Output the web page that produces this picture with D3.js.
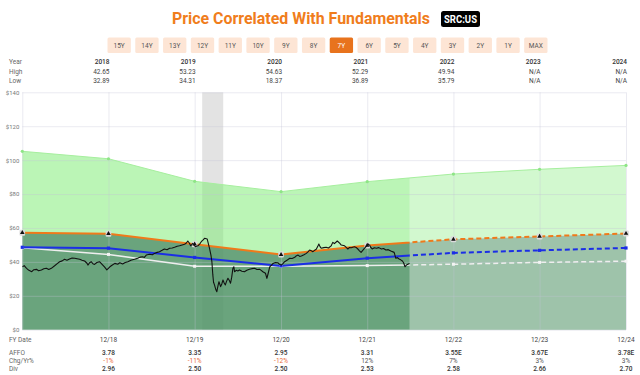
<!DOCTYPE html>
<html><head><meta charset="utf-8">
<script src="https://cdn.jsdelivr.net/npm/d3@7"></script>
<style>
html,body{margin:0;padding:0;background:#fff;}
svg{display:block;font-family:Roboto,"Open Sans",sans-serif;}
</style></head>
<body>
<svg id="chart" width="640" height="375"></svg>
<script>
// ---------- DATA ----------
const buttons = ["15Y","14Y","13Y","12Y","11Y","10Y","9Y","8Y","7Y","6Y","5Y","4Y","3Y","2Y","1Y","MAX"];
const activeButton = "7Y";
const tableYears = ["2018","2019","2020","2021","2022","2023","2024"];
const highs = ["42.65","53.23","54.63","52.29","49.94","N/A","N/A"];
const lows  = ["32.89","34.31","18.37","36.89","35.79","N/A","N/A"];

const fyDates  = ["2017-12-31","2018-12-31","2019-12-31","2020-12-31","2021-12-31","2022-12-31","2023-12-31","2024-12-31"];
const fyLabels = ["","12/18","12/19","12/20","12/21","12/22","12/23","12/24"];
const affo   = ["","3.78","3.35","2.95","3.31","3.55E","3.67E","3.78E"];
const chgYr  = ["","-1%","-11%","-12%","12%","7%","3%","3%"];
const divs   = ["","2.96","2.50","2.50","2.53","2.58","2.66","2.70"];

const upperVals  = [105.2,100.8,87.5,81.4,87.3,91.8,94.6,96.9];
const normalVals = [57.2,56.6,50.4,44.3,49.7,53.3,55.0,56.7];
const affoVals   = [48.6,48.1,42.6,37.6,42.2,45.3,46.8,48.2];
const divVals    = [48.3,44.4,37.4,37.4,37.8,38.6,39.7,40.4];

const recession = ["2020-02-01","2020-04-30"];
const nowDate = "2022-06-28";
const yTicks = [0,20,40,60,80,100,120,140];

const priceDates = ["2018-01-01","2018-01-08","2018-01-18","2018-01-28","2018-02-09","2018-02-18","2018-03-01","2018-03-10","2018-03-22","2018-04-01","2018-04-12","2018-04-22","2018-05-03","2018-05-17","2018-05-28","2018-06-07","2018-06-18","2018-06-28","2018-07-08","2018-07-19","2018-07-30","2018-08-10","2018-08-20","2018-08-31","2018-09-10","2018-09-21","2018-10-01","2018-10-05","2018-10-12","2018-10-19","2018-10-26","2018-11-02","2018-11-12","2018-11-23","2018-12-01","2018-12-07","2018-12-14","2018-12-24","2019-01-06","2019-01-15","2019-01-27","2019-02-08","2019-02-17","2019-03-01","2019-03-12","2019-03-23","2019-04-05","2019-04-20","2019-05-04","2019-05-15","2019-05-25","2019-06-01","2019-06-09","2019-06-23","2019-07-05","2019-07-14","2019-07-25","2019-08-04","2019-08-15","2019-08-25","2019-09-05","2019-09-16","2019-09-27","2019-10-07","2019-10-18","2019-10-28","2019-11-08","2019-11-18","2019-11-25","2019-12-02","2019-12-09","2019-12-14","2019-12-23","2020-01-03","2020-01-14","2020-01-21","2020-01-28","2020-02-05","2020-02-11","2020-02-22","2020-03-03","2020-03-09","2020-03-13","2020-03-17","2020-03-20","2020-03-24","2020-03-30","2020-04-03","2020-04-08","2020-04-12","2020-04-19","2020-04-24","2020-04-29","2020-05-04","2020-05-09","2020-05-14","2020-05-20","2020-05-26","2020-05-31","2020-06-05","2020-06-10","2020-06-14","2020-06-17","2020-06-24","2020-07-01","2020-07-08","2020-07-18","2020-07-29","2020-08-08","2020-08-19","2020-08-29","2020-09-10","2020-09-20","2020-10-01","2020-10-08","2020-10-15","2020-10-26","2020-11-01","2020-11-06","2020-11-13","2020-11-20","2020-11-27","2020-12-07","2020-12-17","2020-12-24","2021-01-01","2021-01-08","2021-01-15","2021-01-25","2021-02-06","2021-02-16","2021-02-27","2021-03-05","2021-03-13","2021-03-20","2021-03-27","2021-04-07","2021-04-17","2021-04-25","2021-05-01","2021-05-08","2021-05-15","2021-05-22","2021-05-29","2021-06-04","2021-06-09","2021-06-14","2021-06-19","2021-06-30","2021-07-10","2021-07-20","2021-07-31","2021-08-07","2021-08-14","2021-08-26","2021-09-05","2021-09-12","2021-09-26","2021-10-03","2021-10-10","2021-10-17","2021-10-24","2021-11-07","2021-11-14","2021-11-21","2021-11-28","2021-12-05","2021-12-12","2021-12-19","2021-12-29","2022-01-04","2022-01-10","2022-01-15","2022-01-21","2022-01-30","2022-02-08","2022-02-18","2022-03-01","2022-03-10","2022-03-20","2022-03-30","2022-04-10","2022-04-24","2022-05-01","2022-05-08","2022-05-15","2022-05-22","2022-05-29","2022-06-03","2022-06-09","2022-06-14","2022-06-19","2022-06-28"];
const priceVals = [37.1,37.8,36.2,35.0,34.2,35.4,35.6,34.8,35.2,35.9,36.2,35.5,36.2,37.7,39.0,40.1,40.6,41.5,41.0,41.7,42.3,42.1,41.8,41.5,41.0,40.5,39.2,38.1,39.5,40.1,38.9,38.5,39.6,40.1,39.0,38.1,37.0,35.3,37.1,38.0,39.1,38.6,39.5,38.8,39.6,40.1,41.0,41.5,42.1,42.8,43.0,42.6,44.0,44.5,44.2,45.0,45.6,46.0,46.8,47.6,47.2,48.0,48.2,48.6,49.2,49.5,50.0,50.4,51.0,52.3,51.0,49.5,50.9,48.9,49.5,50.5,51.9,53.0,53.9,53.5,48.0,44.0,40.1,32.3,28.0,26.4,23.5,22.4,26.0,28.3,25.4,27.0,29.3,27.5,26.4,28.5,30.3,29.0,27.4,31.0,36.2,37.1,34.2,35.0,34.6,35.2,34.5,34.2,35.0,35.6,36.0,36.2,35.5,35.6,35.0,34.2,33.3,30.3,33.0,37.1,38.0,39.1,39.6,39.5,38.6,38.1,39.0,40.1,41.0,42.1,42.0,42.7,43.5,44.0,43.2,43.5,44.2,45.0,46.0,47.0,46.5,46.0,46.8,47.4,49.0,50.5,49.0,48.0,48.4,48.6,48.2,49.4,51.5,50.8,52.3,51.0,49.9,49.5,48.5,47.6,48.5,48.3,48.9,48.5,47.6,46.5,45.6,46.8,48.0,49.5,50.5,49.9,48.5,47.6,48.3,48.0,48.4,47.6,47.9,47.0,47.2,46.4,45.6,42.1,42.5,41.7,41.2,40.5,39.5,37.1,38.0,38.5,39.1];

// ---------- CHART ----------
const parse = d3.timeParse("%Y-%m-%d");
const svg = d3.select("#chart");
const L = 22.3, R = 626, T = 92.3, B = 329.7;
const x = d3.scaleTime().domain([parse(fyDates[0]), parse(fyDates[fyDates.length-1])]).range([L, R]);
const y = d3.scaleLinear().domain([0, 140]).range([B, T]);
const fy = fyDates.map(parse);
const xNow = x(parse(nowDate));

// title
svg.append("text").attr("x", 172).attr("y", 23.5).attr("textLength", 258).attr("lengthAdjust", "spacingAndGlyphs")
  .attr("font-size", 17).attr("font-weight", 700).attr("fill", "#f07d1c").text("Price Correlated With Fundamentals");
svg.append("rect").attr("x", 441).attr("y", 11).attr("width", 39).attr("height", 16).attr("rx", 2.5).attr("fill", "#000");
svg.append("text").attr("x", 460.5).attr("y", 23).attr("text-anchor", "middle").attr("font-size", 11).attr("font-weight", 700)
  .attr("textLength", 33).attr("lengthAdjust", "spacingAndGlyphs").attr("fill", "#fff").text("SRC:US");

// buttons
const bx = d3.scaleBand().domain(buttons).range([107.5, 107.5 + 27.5 * buttons.length]).paddingInner(0.16).paddingOuter(0);
const bg = svg.append("g").selectAll("g").data(buttons).join("g");
bg.append("rect").attr("x", d => bx(d)).attr("y", 37.5).attr("width", bx.bandwidth()).attr("height", 15.5).attr("rx", 1.5)
  .attr("fill", d => d === activeButton ? "#e8731d" : "#fde5d5");
bg.append("text").attr("x", d => bx(d) + bx.bandwidth() / 2).attr("y", 47.8).attr("text-anchor", "middle")
  .attr("font-size", 6.5).attr("fill", d => d === activeButton ? "#fff" : "#555").text(d => d);

// top table
const tg = svg.append("g").attr("font-size", 6.5);
[["Year", 63.8], ["High", 74.2], ["Low", 83.4]].forEach(([t, yy]) =>
  tg.append("text").attr("x", 9).attr("y", yy).attr("fill", "#666").text(t));
const topX = (i) => x(fy[i + 1]) + 1;
tg.selectAll(".yr").data(tableYears).join("text").attr("x", (d, i) => topX(i)).attr("y", 63.8).attr("text-anchor", "end").attr("fill", "#333").attr("font-weight", 500).text(d => d);
tg.selectAll(".hi").data(highs).join("text").attr("x", (d, i) => topX(i)).attr("y", 74.2).attr("text-anchor", "end").attr("fill", "#444").text(d => d);
tg.selectAll(".lo").data(lows).join("text").attr("x", (d, i) => topX(i)).attr("y", 83.4).attr("text-anchor", "end").attr("fill", "#444").text(d => d);

// plot background items
const plot = svg.append("g");
plot.append("rect").attr("x", x(parse(recession[0]))).attr("y", T).attr("width", x(parse(recession[1])) - x(parse(recession[0])))
  .attr("height", B - T).attr("fill", "#e3e3e3");

const rows = fy.map((d, i) => ({d, up: upperVals[i], n: normalVals[i], a: affoVals[i], dv: divVals[i]}));
plot.append("path").datum(rows).attr("fill", "rgba(120,235,110,0.5)")
  .attr("d", d3.area().x(r => x(r.d)).y0(r => y(r.n)).y1(r => y(r.up)));
plot.append("path").datum(rows).attr("fill", "rgba(81,149,104,0.86)")
  .attr("d", d3.area().x(r => x(r.d)).y0(y(0)).y1(r => y(r.n)));
plot.append("rect").attr("x", xNow).attr("y", T).attr("width", R - xNow).attr("height", B - T).attr("fill", "rgba(255,255,255,0.35)");

// grid
const grid = svg.append("g");
grid.append("g").attr("transform", `translate(${L},0)`)
  .call(d3.axisLeft(y).tickValues(yTicks).tickSize(-(R - L)).tickFormat(d => "$" + d))
  .call(g => g.select(".domain").remove())
  .call(g => g.selectAll("line").attr("stroke", "rgba(195,195,215,0.35)"))
  .call(g => g.selectAll("text").attr("x", -3).attr("font-size", 6).attr("fill", "#777").attr("font-family", "Roboto"));
grid.append("g").attr("transform", `translate(0,${B})`)
  .call(d3.axisBottom(x).tickValues(fy).tickSize(-(B - T)).tickFormat(""))
  .call(g => g.select(".domain").remove())
  .call(g => g.selectAll("line").attr("stroke", "rgba(195,195,215,0.35)"));

// clip paths for solid/dashed parts
const defs = svg.append("defs");
defs.append("clipPath").attr("id", "past").append("rect").attr("x", 0).attr("y", 0).attr("width", xNow).attr("height", 375);
defs.append("clipPath").attr("id", "future").append("rect").attr("x", xNow).attr("y", 0).attr("width", 640 - xNow).attr("height", 375);

const lines = svg.append("g").attr("fill", "none");
const mk = key => d3.line().x(r => x(r.d)).y(r => y(r[key]));
lines.append("path").datum(rows).attr("d", mk("up")).attr("stroke", "#a6ef9e").attr("stroke-width", 1);
function split(key, color, w, dash) {
  lines.append("path").datum(rows).attr("d", mk(key)).attr("stroke", color).attr("stroke-width", w).attr("clip-path", "url(#past)");
  lines.append("path").datum(rows).attr("d", mk(key)).attr("stroke", color).attr("stroke-width", w).attr("stroke-dasharray", dash).attr("clip-path", "url(#future)");
}
split("dv", "#eeeeee", 1.5, "5,3");
split("a", "#1b2ee6", 2, "5,3");
split("n", "#f07a1a", 2, "5,3");

// markers
const mg = svg.append("g");
mg.selectAll(".gm").data(rows).join("circle").attr("cx", r => x(r.d)).attr("cy", r => y(r.up)).attr("r", 1.6).attr("fill", "#8ee586");
mg.selectAll(".dm").data(rows).join("rect").attr("x", r => x(r.d) - 1.5).attr("y", r => y(r.dv) - 1.5).attr("width", 3).attr("height", 3).attr("fill", "#f4f4f4");
mg.selectAll(".am").data(rows).join("rect").attr("x", r => x(r.d) - 1.6).attr("y", r => y(r.a) - 1.6).attr("width", 3.2).attr("height", 3.2).attr("fill", "#1b2ee6");
const nm = mg.selectAll(".nm").data(rows).join("g").attr("transform", r => `translate(${x(r.d)},${y(r.n)})`);
nm.append("rect").attr("x", -2.8).attr("y", -3).attr("width", 5.6).attr("height", 6).attr("rx", 1).attr("fill", "#dcdcdc");
nm.append("path").attr("d", d3.symbol(d3.symbolTriangle, 9)()).attr("fill", "#111");

// price line
const price = priceDates.map((d, i) => ({d: parse(d), v: priceVals[i]}));
svg.append("path").datum(price).attr("fill", "none").attr("stroke", "#111").attr("stroke-width", 1.1).attr("stroke-linejoin", "round")
  .attr("d", d3.line().x(p => x(p.d)).y(p => y(p.v)));

// bottom table
const bt = svg.append("g").attr("font-size", 6.5);
[["FY Date", 342], ["AFFO", 354.5], ["Chg/Yr%", 362.8], ["Div", 371.2]].forEach(([t, yy]) =>
  bt.append("text").attr("x", 9).attr("y", yy).attr("fill", "#666").text(t));
const cols = rows.slice(1).map((r, i) => ({d: r.d, lab: fyLabels[i + 1], af: affo[i + 1], ch: chgYr[i + 1], dv: divs[i + 1]}));
bt.selectAll(".fl").data(cols).join("text").attr("x", c => x(c.d)).attr("y", 342).attr("text-anchor", "middle").attr("fill", "#444").text(c => c.lab);
bt.selectAll(".af").data(cols).join("text").attr("x", c => x(c.d)).attr("y", 354.5).attr("text-anchor", "middle").attr("fill", "#333").attr("font-weight", 500).text(c => c.af);
bt.selectAll(".ch").data(cols).join("text").attr("x", c => x(c.d)).attr("y", 362.8).attr("text-anchor", "middle")
  .attr("fill", c => c.ch.startsWith("-") ? "#ea6b3a" : "#555").text(c => c.ch);
bt.selectAll(".dv").data(cols).join("text").attr("x", c => x(c.d)).attr("y", 371.2).attr("text-anchor", "middle").attr("fill", "#333").attr("font-weight", 500).text(c => c.dv);
</script>
</body></html>
